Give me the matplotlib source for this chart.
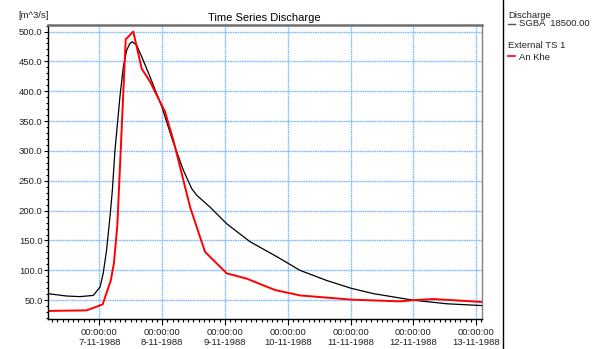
import matplotlib
matplotlib.use("Agg")
import matplotlib.pyplot as plt
import matplotlib.dates as mdates
from matplotlib.ticker import MultipleLocator, FuncFormatter
from matplotlib.lines import Line2D
from datetime import datetime, timedelta

plt.rcParams['font.family'] = ['Liberation Sans', 'DejaVu Sans']

# hours after 7-11-1988 00:00
sgba_hours = [-19.7, -12.5, -7.4, -2.3, 0.3, 1.5, 2.8, 4.1, 5.0, 6.0, 7.9, 9.2, 10.5,
              11.7, 12.6, 14.3, 16.2, 19.4, 23.9, 28.0, 32.1, 35.3, 37.2, 42.3, 48.7,
              57.6, 67.8, 76.7, 86.9, 96.2, 104.7, 120.0, 132.8, 146.1]
sgba_q = [61, 57, 56, 58, 72, 95, 134, 190, 234, 301, 391, 441, 469,
          480, 483, 477, 458, 424, 374, 318, 268, 237, 226, 206, 178,
          148, 123, 100, 83, 70, 61, 50, 44, 41]

ankhe_hours = [-19.7, -4.8, 1.3, 4.4, 5.6, 6.9, 10.1, 13.0, 16.2, 19.4, 25.1, 28.3,
               34.7, 40.4, 48.7, 56.4, 67.2, 76.7, 96.2, 114.9, 120.0, 127.8, 146.1]
ankhe_q = [32, 33, 43, 83, 112, 175, 487, 500, 438, 416, 366, 318,
           206, 131, 95, 86, 67, 58, 51, 48, 50, 52, 47]

t0 = datetime(1988, 11, 7)
sgba_t = [t0 + timedelta(hours=h) for h in sgba_hours]
ankhe_t = [t0 + timedelta(hours=h) for h in ankhe_hours]

fig = plt.figure(figsize=(6, 3.49), dpi=100)
ax = fig.add_axes([0.0795, 0.0851, 0.7233, 0.8433])

ax.plot(sgba_t, sgba_q, color='black', lw=0.9)
ax.plot(ankhe_t, ankhe_q, color='#ff0000', lw=1.4)

ax.set_xlim(t0 + timedelta(hours=-19.7), t0 + timedelta(hours=146.1))
ax.set_ylim(18, 511)

ax.xaxis.set_major_locator(mdates.DayLocator())
ax.xaxis.set_minor_locator(mdates.HourLocator(byhour=range(0, 24, 2)))

def date_label(x, pos):
    d = mdates.num2date(x)
    return '00:00:00\n%d-%d-%d' % (d.day, d.month, d.year)

ax.xaxis.set_major_formatter(FuncFormatter(date_label))
ax.yaxis.set_major_locator(MultipleLocator(50))
ax.yaxis.set_minor_locator(MultipleLocator(10))
ax.yaxis.set_major_formatter(FuncFormatter(lambda v, p: '%.1f' % v))

ax.tick_params(axis='both', which='major', labelsize=6.8, color='black', width=0.8,
               labelcolor='#222222')
ax.tick_params(axis='x', which='major', length=4.2, pad=2)
ax.tick_params(axis='x', which='minor', length=1.8, width=0.8)
ax.tick_params(axis='y', which='major', length=2.6, pad=1)
ax.tick_params(axis='y', which='minor', length=1.6, width=0.8)

ax.grid(True, which='major', color='#7dbbff', lw=1.0, linestyle=(0, (1.2, 0.5)))

ax.spines['top'].set_color('#6e6e6e')
ax.spines['top'].set_linewidth(1.8)
ax.spines['right'].set_color('#808080')
ax.spines['right'].set_linewidth(1.0)
ax.spines['left'].set_linewidth(1.0)
ax.spines['bottom'].set_linewidth(1.0)

ax.set_title('Time Series Discharge', fontsize=8, pad=3)
fig.text(18 / 600, 1 - 15 / 349, '[m^3/s]', fontsize=6.8, va='center', ha='left',
         color='#222222')

# legend panel
fig.add_artist(Line2D([503 / 600, 503 / 600], [0, 1], color='black', lw=1.0))
fig.text(508 / 600, 1 - 15 / 349, 'Discharge', fontsize=6.8, va='center', color='#222222')
fig.add_artist(Line2D([508 / 600, 515 / 600], [1 - 24 / 349, 1 - 24 / 349],
                      color='#555555', lw=1.0))
fig.text(519 / 600, 1 - 24 / 349, 'SGBA  18500.00', fontsize=6.8, va='center',
         color='#222222')
fig.text(508 / 600, 1 - 46 / 349, 'External TS 1', fontsize=6.8, va='center',
         color='#222222')
fig.add_artist(Line2D([508 / 600, 515 / 600], [1 - 56 / 349, 1 - 56 / 349],
                      color='#ff0000', lw=1.2))
fig.text(519 / 600, 1 - 57 / 349, 'An Khe', fontsize=6.8, va='center', color='#222222')

fig.savefig('out.png', dpi=100)
